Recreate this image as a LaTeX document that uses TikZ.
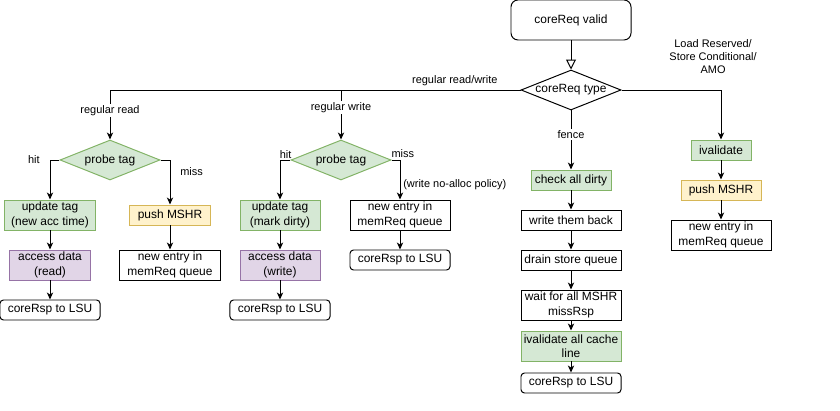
\documentclass[tikz,border=0pt]{standalone}
\usepackage{fontspec}
\setmainfont{Liberation Sans}
\definecolor{TagGreen}{HTML}{d5e8d4}
\definecolor{TagGreenLine}{HTML}{82b366}
\definecolor{DataPurple}{HTML}{e1d5e7}
\definecolor{DataPurpleLine}{HTML}{9673a6}
\definecolor{MshrYellow}{HTML}{fff2cc}
\definecolor{MshrYellowLine}{HTML}{d6b656}
\usetikzlibrary{arrows.meta,shapes.geometric}

\begin{document}
\begin{tikzpicture}[x=0.025cm,y=-0.025cm,
        blk/.style={draw,line width=0.7pt,inner sep=0pt,align=center,
                    minimum width=2.5cm,minimum height=0.5cm,
                    font=\fontsize{8.5}{10.2}\selectfont},
        rsp/.style={blk,rounded corners=2.5pt},
        tag/.style={blk,fill=TagGreen,draw=TagGreenLine},
        dat/.style={blk,fill=DataPurple,draw=DataPurpleLine},
        mshr/.style={blk,fill=MshrYellow,draw=MshrYellowLine},
        dec/.style={diamond,draw,line width=0.7pt,inner sep=0pt,aspect=2.5,
                    minimum width=2.5cm,minimum height=1cm,
                    font=\fontsize{8.5}{10.2}\selectfont},
        lbl/.style={font=\fontsize{7.8}{9.4}\selectfont,inner sep=1pt,align=center},
        flow/.style={line width=0.7pt,-{Stealth[length=5pt,width=4.5pt,inset=1.5pt]}}]

        \useasboundingbox (0,0) rectangle (840,411);

        \node[blk,rounded corners=5pt,minimum width=3cm,minimum height=1cm] (valid) at (571,20) {coreReq valid};
        \node[dec] (type) at (571,90) {coreReq type};

        \node[dec,fill=TagGreen,draw=TagGreenLine] (prbR) at (110,160) {probe tag};
        \node[tag,minimum width=2.25cm,minimum height=0.75cm] (updR) at (50,215) {update tag\\(new acc time)};
        \node[dat,minimum width=2cm,minimum height=0.75cm] (accR) at (50,265) {access data\\(read)};
        \node[rsp] (rspR) at (50,310) {coreRsp to LSU};
        \node[mshr,minimum width=2cm] (mshrR) at (170,215) {push MSHR};
        \node[blk,minimum height=0.75cm] (memR) at (170,265) {new entry in\\memReq queue};

        \node[dec,fill=TagGreen,draw=TagGreenLine] (prbW) at (341,160) {probe tag};
        \node[tag,minimum width=2cm,minimum height=0.75cm] (updW) at (280,215) {update tag\\(mark dirty)};
        \node[dat,minimum width=2cm,minimum height=0.75cm] (accW) at (280,265) {access data\\(write)};
        \node[rsp] (rspW) at (280,310) {coreRsp to LSU};
        \node[blk,minimum height=0.75cm] (memW) at (400,215) {new entry in\\memReq queue};
        \node[rsp] (rspM) at (400,260) {coreRsp to LSU};

        \node[tag,minimum width=2cm] (chk) at (571,180) {check all dirty};
        \node[blk] (wb) at (571,220) {write them back};
        \node[blk] (drain) at (571,260) {drain store queue};
        \node[blk,minimum height=0.75cm] (wait) at (571,305) {wait for all MSHR\\missRsp};
        \node[tag,minimum height=0.75cm] (inv) at (571,346) {ivalidate all cache\\line};
        \node[rsp] (rspF) at (571,383) {coreRsp to LSU};

        \node[tag,minimum width=1.5cm] (ival) at (721,150) {ivalidate};
        \node[mshr,minimum width=2cm] (mshrA) at (721,190) {push MSHR};
        \node[blk,minimum height=0.75cm] (memA) at (721,235) {new entry in\\memReq queue};

        \draw[line width=0.7pt,-{Triangle[open,length=7pt,width=7pt]}] (valid) -- (type);
        \draw[flow] (type.west) -| node[lbl,pos=0.08,above=2pt] {regular read/write}
            node[lbl,pos=0.71,fill=white] {regular read} (prbR.north);
        \draw[flow] (type.west) -| node[lbl,pos=0.68,fill=white] {regular write} (prbW.north);
        \draw[flow] (type.east) -| node[lbl,pos=0.46,above=10pt] {Load Reserved/\\Store Conditional/\\AMO} (ival.north);
        \draw[flow] (type.south) -- node[lbl,pos=0.4,fill=white] {fence} (chk.north);

        \draw[flow] (prbR.west) -| node[lbl,pos=0.5,left=6pt] {hit} (updR.north);
        \draw[flow] (prbR.east) -| node[lbl,pos=0.63,right=6pt] {miss} (mshrR.north);
        \draw[flow] (prbW.west) -| node[lbl,pos=0.5,above,xshift=4pt] {hit} (updW.north);
        \draw[flow] (prbW.east) -| node[lbl,pos=0.5,above,xshift=2pt] {miss}
            node[lbl,pos=0.81,right=1pt] {(write no-alloc policy)} (memW.north);

        \foreach \a/\b in {updR/accR,accR/rspR,mshrR/memR,updW/accW,accW/rspW,memW/rspM,
                           chk/wb,wb/drain,drain/wait,wait/inv,inv/rspF,ival/mshrA,mshrA/memA}{
          \draw[flow] (\a) -- (\b);
        }
      \end{tikzpicture}
\end{document}
